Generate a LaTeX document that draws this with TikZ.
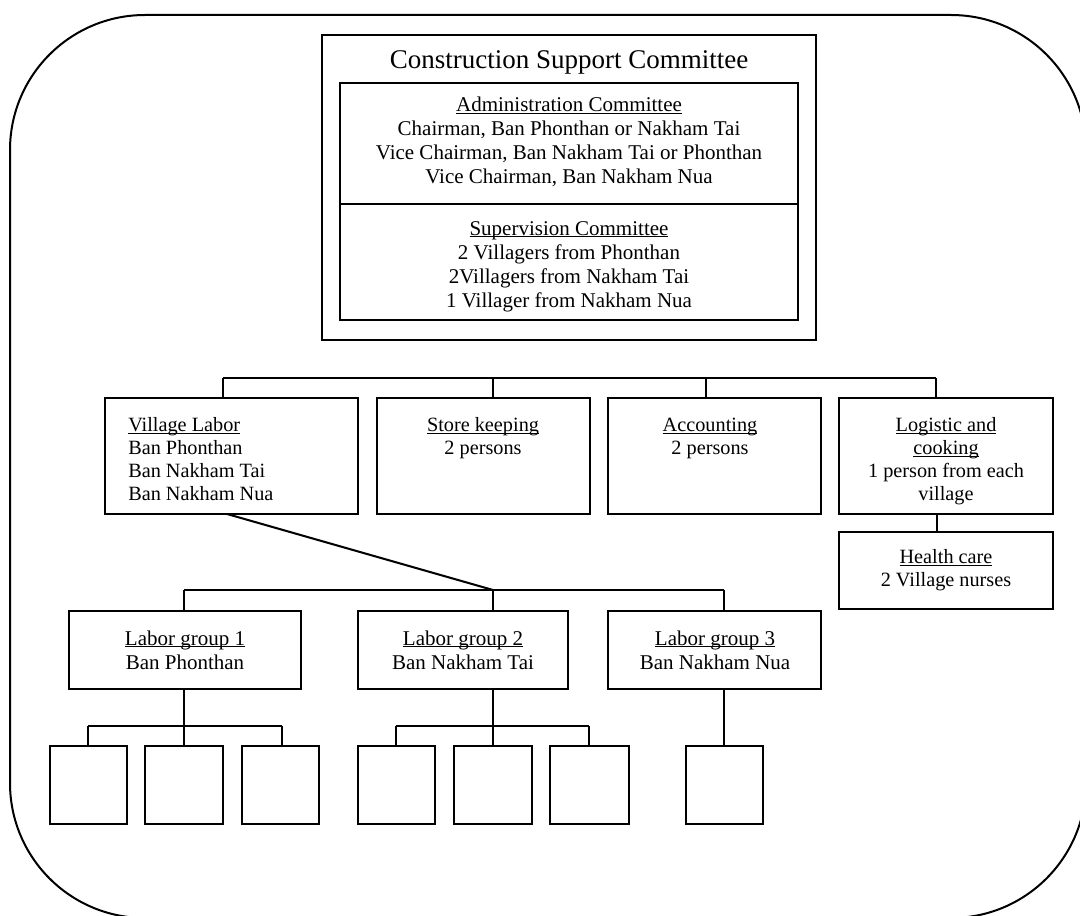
\documentclass[tikz,border=0pt]{standalone}
\usepackage{fontspec}
\setmainfont{Liberation Serif}
\usetikzlibrary{fit}
\newcommand\fTitle{\fontsize{20.25pt}{24pt}\selectfont}
\newcommand\fBody{\fontsize{15.75pt}{18pt}\selectfont}
\newcommand\fRow{\fontsize{15.2pt}{17.5pt}\selectfont}
\newcommand\uln[1]{\setbox0=\hbox{#1}\rlap{\rule[-0.11em]{\wd0}{0.055em}}\box0}
\tikzset{
  frame/.style={draw, line width=1.5pt, inner sep=0pt},
  conn/.style={line width=1.5pt},
  ttl/.style={anchor=base, inner sep=0pt, font=\fTitle},
  bt/.style={anchor=base, inner sep=0pt, font=\fBody},
  rt/.style={anchor=base, inner sep=0pt, font=\fRow},
  rtl/.style={anchor=base west, inner sep=0pt, font=\fRow},
}
\begin{document}
\begin{tikzpicture}[x=0.75pt, y=-0.75pt]
\useasboundingbox (0,0) rectangle (1080,916);
\clip (0,0) rectangle (1080,916);
\draw[line width=1.5pt, rounded corners=101.25pt] (10,15) rectangle (1086,918);

% Construction Support Committee
\node[frame, fit={(322,35) (816,340)}] (csc) {};
\node[frame, fit={(340,83) (798,320)}] (cscin) {};
\coordinate (divL) at (340,204);
\coordinate (divR) at (798,204);
\draw[conn] (divL) -- (divR);
\node[ttl] (title) at (569,69) {Construction Support Committee};
\node[bt] (a1) at (569,112) {\uln{Administration Committee}};
\node[bt] (a2) at (569,136) {Chairman, Ban Phonthan or Nakham Tai};
\node[bt] (a3) at (569,160) {Vice Chairman, Ban Nakham Tai or Phonthan};
\node[bt] (a4) at (569,184) {Vice Chairman, Ban Nakham Nua};
\node[bt] (s1) at (569,235) {\uln{Supervision Committee}};
\node[bt] (s2) at (569,259) {2 Villagers from Phonthan};
\node[bt] (s3) at (569,283) {2Villagers from Nakham Tai};
\node[bt] (s4) at (569,307) {1 Villager from Nakham Nua};

% Row 2
\node[frame, fit={(105,398) (358,514)}] (vl) {};
\node[frame, fit={(377,398) (590,514)}] (sk) {};
\node[frame, fit={(608,398) (821,514)}] (ac) {};
\node[frame, fit={(839,398) (1053,514)}] (lc) {};
\node[frame, fit={(839,532) (1053,609)}] (hc) {};

\node[rtl] (vl1) at (128,431.5) {\uln{Village Labor}};
\node[rtl] (vl2) at (128,454.5) {Ban Phonthan};
\node[rtl] (vl3) at (128,477.5) {Ban Nakham Tai};
\node[rtl] (vl4) at (128,500.5) {Ban Nakham Nua};
\node[rt] (sk1) at (483,431.5) {\uln{Store keeping}};
\node[rt] (sk2) at (483,454.5) {2 persons};
\node[rt] (ac1) at (710,431.5) {\uln{Accounting}};
\node[rt] (ac2) at (710,454.5) {2 persons};
\node[rt] (lc1) at (946,431.5) {\uln{Logistic and}};
\node[rt] (lc2) at (946,454.5) {\uln{cooking}};
\node[rt] (lc3) at (946,477.5) {1 person from each};
\node[rt] (lc4) at (946,500.5) {village};
\node[rt] (hc1) at (946,563.5) {\uln{Health care}};
\node[rt] (hc2) at (946,586.5) {2 Village nurses};

\coordinate (b1L) at (223,378);
\coordinate (b1a) at (493,378);
\coordinate (b1b) at (706,378);
\coordinate (b1R) at (936,378);
\draw[conn] (b1L) -- (b1R);
\draw[conn] (b1L) -- (b1L |- vl.north);
\draw[conn] (b1a) -- (b1a |- sk.north);
\draw[conn] (b1b) -- (b1b |- ac.north);
\draw[conn] (b1R) -- (b1R |- lc.north);
\coordinate (lhc) at (937,514);
\draw[conn] (lhc) -- (lhc |- hc.north);

% Row 3
\node[frame, fit={(69,611) (301,689)}] (lg1) {};
\node[frame, fit={(358,611) (568,689)}] (lg2) {};
\node[frame, fit={(608,611) (821,689)}] (lg3) {};
\node[bt] (lg1a) at (185,645) {\uln{Labor group 1}};
\node[bt] (lg1b) at (185,669) {Ban Phonthan};
\node[bt] (lg2a) at (463,645) {\uln{Labor group 2}};
\node[bt] (lg2b) at (463,669) {Ban Nakham Tai};
\node[bt] (lg3a) at (715,645) {\uln{Labor group 3}};
\node[bt] (lg3b) at (715,669) {Ban Nakham Nua};

\coordinate (vlout) at (227,514);
\coordinate (b2L) at (184,590);
\coordinate (b2M) at (493,590);
\coordinate (b2R) at (724,590);
\draw[conn] (vlout) -- (b2M);
\draw[conn] (b2L) -- (b2R);
\draw[conn] (b2L) -- (b2L |- lg1.north);
\draw[conn] (b2M) -- (b2M |- lg2.north);
\draw[conn] (b2R) -- (b2R |- lg3.north);

% Row 4
\node[frame, fit={(50,746) (127,824)}] (p1) {};
\node[frame, fit={(145,746) (223,824)}] (p2) {};
\node[frame, fit={(242,746) (319,824)}] (p3) {};
\node[frame, fit={(358,746) (435,824)}] (p4) {};
\node[frame, fit={(454,746) (532,824)}] (p5) {};
\node[frame, fit={(550,746) (629,824)}] (p6) {};
\node[frame, fit={(686,746) (763,824)}] (p7) {};

\coordinate (g1L) at (88,726);
\coordinate (g1M) at (184,726);
\coordinate (g1R) at (282,726);
\coordinate (g2L) at (396,726);
\coordinate (g2M) at (493,726);
\coordinate (g2R) at (589,726);
\coordinate (g3M) at (724,726);
\draw[conn] (g1L) -- (g1R);
\draw[conn] (g2L) -- (g2R);
\draw[conn] (g1L) -- (g1L |- p1.north);
\draw[conn] (g1R) -- (g1R |- p3.north);
\draw[conn] (g2L) -- (g2L |- p4.north);
\draw[conn] (g2R) -- (g2R |- p6.north);
\draw[conn] (g1M |- lg1.south) -- (g1M |- p2.north);
\draw[conn] (g2M |- lg2.south) -- (g2M |- p5.north);
\draw[conn] (g3M |- lg3.south) -- (g3M |- p7.north);
\end{tikzpicture}
\end{document}
